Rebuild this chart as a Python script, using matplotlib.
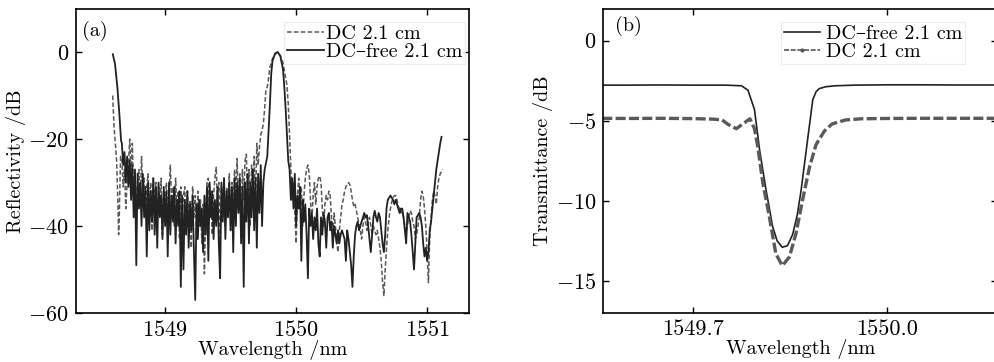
import numpy as np
import matplotlib.pyplot as plt
from matplotlib.lines import Line2D

plt.rcParams['font.family'] = ['cmr10', 'DejaVu Serif']
plt.rcParams['mathtext.fontset'] = 'cm'
plt.rcParams['axes.formatter.use_mathtext'] = True
plt.rcParams['font.size'] = 14.5

# ---- (a) reflectivity ----
# DC-free, left edge + noise floor (1548.67..1549.76 step 0.01)
free_edge_wl = [1548.601, 1548.618, 1548.636, 1548.651, 1548.664]
free_edge_db = [-0.5, -2.8, -8.2, -14.3, -20.4]
free_left_db = [
    -21, -26, -23, -30, -24, -31, -25, -34, -26, -38,
    -27, -49, -28, -36, -30, -40, -28, -38, -31, -47,
    -30, -41, -32, -39, -29, -42, -31, -45, -30, -38,
    -33, -43, -31, -40, -32, -47, -30, -42, -33, -39,
    -31, -44, -34, -40, -32, -54, -33, -50, -34, -42,
    -32, -45, -35, -41, -33, -46, -57, -35, -43, -34,
    -40, -36, -46, -33, -42, -31, -48, -30, -38, -32,
    -43, -34, -40, -31, -44, -52, -30, -39, -29, -43,
    -32, -38, -30, -41, -31, -46, -29, -40, -30, -37,
    -29, -44, -31, -54, -30, -39, -28, -44, -30, -38,
    -27, -41, -29, -45, -28, -37, -26, -40, -30, -27]
free_peak_wl = [1549.78, 1549.79, 1549.80, 1549.81, 1549.82, 1549.84, 1549.86,
                1549.88, 1549.90, 1549.91, 1549.92, 1549.93, 1549.94]
free_peak_db = [-24, -18, -12, -5, -2, -0.3, 0, -1, -4, -8, -13, -19, -25]
# DC-free, right noise floor (1549.95..1551.11 step 0.01)
free_right_db = [
    -27, -34, -29, -36, -28, -40, -33, -36, -31, -48,
    -34, -39, -35, -42, -52, -36, -40, -37, -43, -38,
    -41, -36, -44, -47, -38, -42, -37, -39, -45, -38,
    -37, -41, -39, -45, -40, -42, -44, -41, -44, -42,
    -41, -42, -43, -48, -41, -43, -46, -49, -54, -47,
    -42, -40, -39, -41, -40, -39, -38, -37, -38, -37.5,
    -40, -43, -46, -42, -38, -36.5, -38, -39, -37, -38,
    -41, -44, -46, -42, -36, -34, -33.5, -33, -33.5, -34,
    -35, -34, -35, -36, -37, -36, -36, -38, -41, -44,
    -37, -38, -39, -42, -46, -50, -44, -38, -37.5, -37,
    -38, -40, -44, -47, -45, -48, -46, -41, -39, -36,
    -33, -30, -27, -25, -23, -21, -19.5]

# DC, left edge + noise floor (1548.67..1549.70 step 0.01)
dc_edge_wl = [1548.60, 1548.61, 1548.62, 1548.63, 1548.64, 1548.645, 1548.65, 1548.66]
dc_edge_db = [-10, -17, -21, -25, -35, -42, -38, -24]
dc_left_db = [
    -25, -31, -27, -36, -30, -26, -20, -29, -21, -33,
    -28, -37, -30, -27, -35, -24, -32, -29, -38, -31,
    -28, -36, -30, -41, -29, -35, -30, -39, -31, -37,
    -29, -42, -32, -36, -30, -38, -33, -26, -35, -31,
    -40, -29, -37, -32, -43, -31, -38, -33, -31, -41,
    -32, -39, -34, -45, -31, -38, -33, -42, -32, -40,
    -34, -44, -35, -51, -38, -30, -29, -37, -32, -42,
    -33, -29, -26.5, -35, -30, -43, -31, -38, -29, -40,
    -31, -36, -28, -41, -30, -37, -27, -33, -24.5, -36,
    -28, -39, -27, -34, -25, -23.5, -35, -27, -40, -26,
    -32, -24, -36, -21]
dc_peak_wl = [1549.71, 1549.72, 1549.73, 1549.74, 1549.75, 1549.76, 1549.77,
              1549.78, 1549.79, 1549.80, 1549.82, 1549.84, 1549.86, 1549.88,
              1549.90, 1549.92, 1549.93, 1549.94, 1549.95, 1549.96, 1549.97]
dc_peak_db = [-26, -22, -19, -18, -16.5, -13, -8.5, -8, -6, -3.5, -1.5, -0.5,
              0, -0.8, -2.5, -6, -7.5, -12, -19, -27, -34]
# DC, right noise floor (1549.98..1551.12 step 0.01)
dc_right_db = [
    -30, -37, -44, -33, -29, -36, -31, -40, -33, -29,
    -27, -26, -28, -34, -39, -33, -30, -35, -31, -29,
    -28.5, -30, -36, -40, -35, -33, -34, -32, -33, -38,
    -42, -37, -40, -44, -46, -41, -38, -35, -34, -32,
    -31, -30.5, -30, -30.5, -32, -34, -35.5, -35, -36.5, -38,
    -39.5, -41, -43, -40, -38, -39, -41, -39, -38, -40,
    -42, -40, -41, -42, -41, -43, -45, -48, -53, -56,
    -50, -45, -41, -38, -36, -34.5, -33.5, -33, -33, -34,
    -35.5, -36, -37, -36.5, -38, -40, -41.5, -40, -38, -36.5,
    -37, -39, -40, -43, -42, -40, -38, -34, -32, -33,
    -36, -40, -46, -53, -43, -38, -34, -32, -33, -35,
    -31, -29, -28, -27.5, -27]

# ---- (b) transmittance ----
tf_wl = [1549.56, 1549.60, 1549.65, 1549.70, 1549.75, 1549.775, 1549.785,
         1549.795, 1549.803, 1549.813, 1549.823, 1549.83, 1549.838, 1549.846,
         1549.854, 1549.861, 1549.867, 1549.877, 1549.885, 1549.89, 1549.895,
         1549.905, 1549.92, 1549.95, 1550.0, 1550.05, 1550.1, 1550.17]
tf_db = [-2.78, -2.78, -2.77, -2.78, -2.78, -2.82, -3.1, -4.3, -6.85, -9.35,
         -11.6, -12.5, -12.9, -12.8, -12.1, -10.9, -9.35, -6.2, -3.7, -3.2,
         -3.0, -2.88, -2.82, -2.78, -2.76, -2.76, -2.77, -2.77]
td_wl = [1549.56, 1549.60, 1549.65, 1549.70, 1549.73, 1549.745, 1549.755,
         1549.767, 1549.777, 1549.788, 1549.795, 1549.80, 1549.808, 1549.818,
         1549.828, 1549.838, 1549.849, 1549.859, 1549.869, 1549.88, 1549.89,
         1549.903, 1549.915, 1549.936, 1549.96, 1550.0, 1550.05, 1550.1, 1550.17]
td_db = [-4.85, -4.86, -4.85, -4.87, -4.9, -4.95, -5.25, -5.5, -5.2, -4.88,
         -5.5, -6.6, -8.9, -11.0, -13.3, -14.05, -13.5, -12.06, -10.0, -7.9,
         -6.5, -5.64, -5.2, -4.95, -4.88, -4.86, -4.85, -4.85, -4.85]

free_wl = np.concatenate([free_edge_wl,
                          np.round(1548.67 + 0.01 * np.arange(len(free_left_db)), 3),
                          free_peak_wl,
                          np.round(1549.95 + 0.01 * np.arange(len(free_right_db)), 3)])
free_db = np.concatenate([free_edge_db, free_left_db, free_peak_db, free_right_db])
dc_wl = np.concatenate([dc_edge_wl,
                        np.round(1548.67 + 0.01 * np.arange(len(dc_left_db)), 3),
                        dc_peak_wl,
                        np.round(1549.98 + 0.01 * np.arange(len(dc_right_db)), 3)])
dc_db = np.concatenate([dc_edge_db, dc_left_db, dc_peak_db, dc_right_db])

fig = plt.figure(figsize=(9.95, 3.62), dpi=100)
ax1 = fig.add_axes([0.0764, 0.1354, 0.395, 0.841])
ax2 = fig.add_axes([0.6063, 0.1354, 0.396, 0.841])

dark = '#222222'
grey = '#5a5a5a'

ax1.plot(dc_wl, dc_db, color=grey, lw=1.1, ls=(0, (3, 1.5)), label='DC 2.1 cm')
ax1.plot(free_wl, free_db, color=dark, lw=1.3, label='DC\u2013free 2.1 cm')
ax1.set_xlim(1548.32, 1551.32)
ax1.set_ylim(-60, 10)
ax1.set_xticks([1549, 1550, 1551])
ax1.set_yticks([-60, -40, -20, 0])
ax1.set_xlabel('Wavelength /nm', labelpad=0)
ax1.set_ylabel('Reflectivity /dB', labelpad=2)
ax1.text(0.015, 0.96, '(a)', transform=ax1.transAxes, va='top', ha='left')
leg1 = ax1.legend(loc='upper right', bbox_to_anchor=(0.99, 0.955), frameon=True,
                  fancybox=False, edgecolor='#e6e6e6', labelspacing=0.0,
                  handlelength=1.8, handletextpad=0.1, borderpad=0.15,
                  borderaxespad=0.0, fontsize=14.5)
leg1.get_frame().set_linewidth(0.8)

ax2.plot(tf_wl, tf_db, color=dark, lw=1.2)
ax2.plot(td_wl, td_db, color=grey, lw=2.4, ls=(0, (3, 1)))
ax2.set_xlim(1549.5615, 1550.17)
ax2.set_ylim(-17, 2)
ax2.set_xticks([1549.7, 1550.0])
ax2.set_xticklabels(['1549.7', '1550.0'])
ax2.set_yticks([-15, -10, -5, 0])
ax2.set_xlabel('Wavelength /nm', labelpad=0)
ax2.set_ylabel('Transmittance /dB', labelpad=2)
ax2.text(0.03, 0.975, '(b)', transform=ax2.transAxes, va='top', ha='left')
h_free = Line2D([], [], color=dark, lw=1.2)
h_dc = Line2D([], [], color=grey, lw=1.2, ls=(0, (3, 1)), marker='.', markersize=4)
leg2 = ax2.legend([h_free, h_dc], ['DC\u2013free 2.1 cm', 'DC 2.1 cm'],
                  loc='upper left', bbox_to_anchor=(0.45, 0.955), frameon=True,
                  fancybox=False, edgecolor='#e6e6e6', labelspacing=0.0,
                  handlelength=1.8, handletextpad=0.3, borderpad=0.15,
                  borderaxespad=0.0, fontsize=14.5, numpoints=1, alignment='left')
leg2.get_frame().set_linewidth(0.8)

for ax in (ax1, ax2):
    ax.tick_params(direction='in', top=True, right=True, length=4, width=1,
                   labelsize=16, pad=5)
    for s in ax.spines.values():
        s.set_linewidth(1.2)

fig.savefig('out.png', dpi=100)
